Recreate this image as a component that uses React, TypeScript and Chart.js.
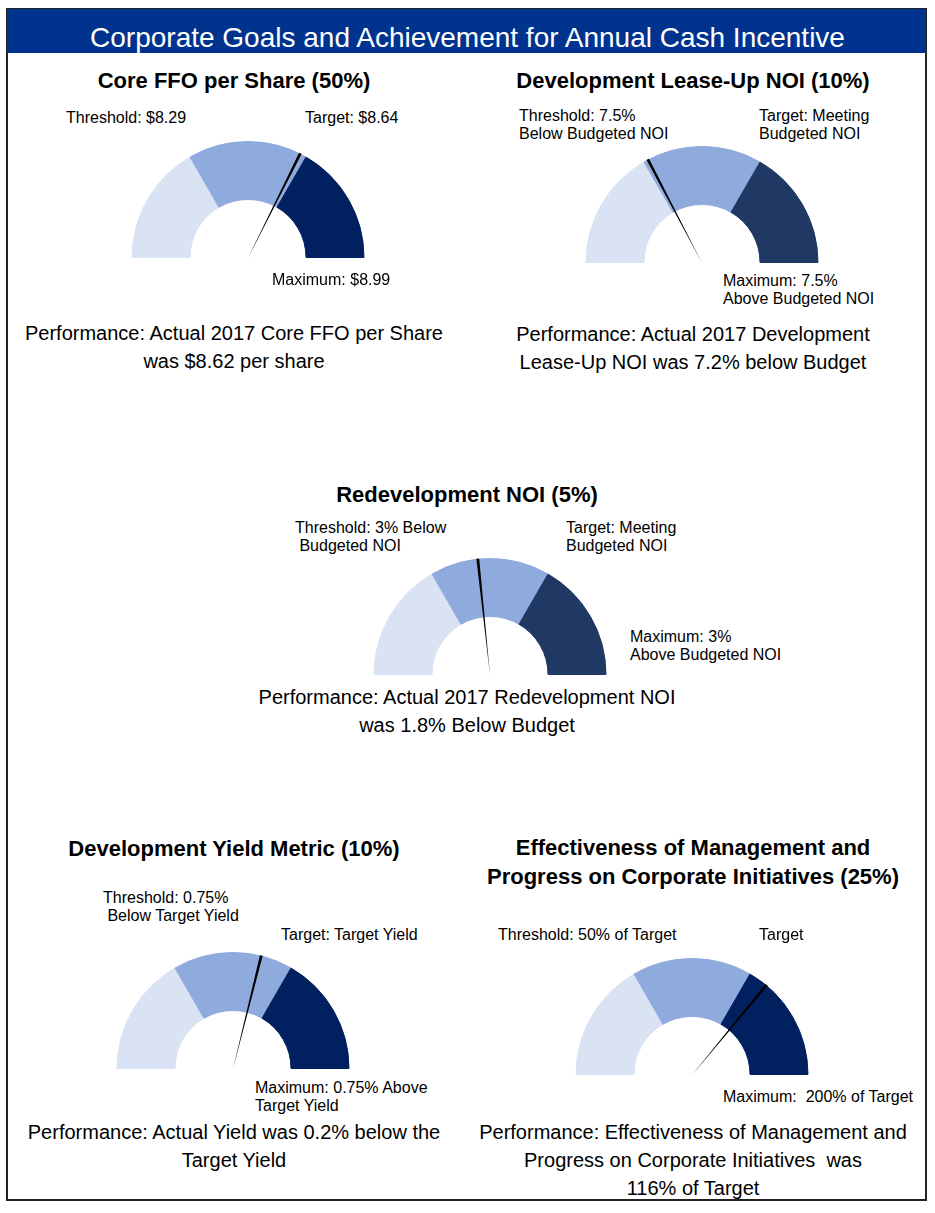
import React, { useEffect, useRef } from "react";
import { Chart, registerables } from "chart.js";

Chart.register(...registerables);

// ---------------- DATA ----------------
const pageTitle = "Corporate Goals and Achievement for Annual Cash Incentive";

const gaugeTitles: string[][] = [
  ["Core FFO per Share (50%)"],
  ["Development Lease-Up NOI (10%)"],
  ["Redevelopment NOI (5%)"],
  ["Development Yield Metric (10%)"],
  ["Effectiveness of Management and", "Progress on Corporate Initiatives (25%)"],
];

const thresholdValues = [8.29, -7.5, -3, -0.75, 50];
const targetValues = [8.64, 0, 0, 0, 100];
const maximumValues = [8.99, 7.5, 3, 0.75, 200];
const actualValues = [8.62, -7.2, -1.8, -0.2, 116];

// gauge bands (degrees of the half circle): below threshold, threshold→target, target→maximum
const bandLabels = ["Below Threshold", "Threshold to Target", "Target to Maximum"];
const bandSizes = [60, 60, 60];

const thresholdLabels: string[][] = [
  ["Threshold: $8.29"],
  ["Threshold: 7.5%", "Below Budgeted NOI"],
  ["Threshold: 3% Below", " Budgeted NOI"],
  ["Threshold: 0.75%", " Below Target Yield"],
  ["Threshold: 50% of Target"],
];
const targetLabels: string[][] = [
  ["Target: $8.64"],
  ["Target: Meeting", "Budgeted NOI"],
  ["Target: Meeting", "Budgeted NOI"],
  ["Target: Target Yield"],
  ["Target"],
];
const maximumLabels: string[][] = [
  ["Maximum: $8.99"],
  ["Maximum: 7.5%", "Above Budgeted NOI"],
  ["Maximum: 3%", "Above Budgeted NOI"],
  ["Maximum: 0.75% Above", "Target Yield"],
  ["Maximum:  200% of Target"],
];
const performanceTexts: string[][] = [
  ["Performance: Actual 2017 Core FFO per Share", "was $8.62 per share"],
  ["Performance: Actual 2017 Development", "Lease-Up NOI was 7.2% below Budget"],
  ["Performance: Actual 2017 Redevelopment NOI", "was 1.8% Below Budget"],
  ["Performance: Actual Yield was 0.2% below the", "Target Yield"],
  [
    "Performance: Effectiveness of Management and",
    "Progress on Corporate Initiatives  was",
    "116% of Target",
  ],
];

// ---------------- STYLE / LAYOUT ----------------
const FONT = '"Liberation Sans", Arial, Helvetica, sans-serif';
const LIGHT = "#DAE3F3";
const MEDIUM = "#8FAADC";
const DARK_NAVY = "#002060";
const DARK_SLATE = "#203864";
const darkColors = [DARK_NAVY, DARK_SLATE, DARK_SLATE, DARK_NAVY, DARK_NAVY];
const NEEDLE_WIDTH = 1.4; // degrees
const R = 117;

type Pt = { x: number; y: number };
type Layout = {
  center: Pt;
  titleCx: number;
  titleCy: number;
  thr: Pt;
  tgt: Pt;
  max: Pt;
  perfCx: number;
  perfCy: number;
};

const layouts: Layout[] = [
  { center: { x: 248, y: 258 }, titleCx: 234, titleCy: 80, thr: { x: 66, y: 118 }, tgt: { x: 305, y: 118 }, max: { x: 272, y: 280 }, perfCx: 234, perfCy: 333 },
  { center: { x: 702, y: 263 }, titleCx: 693, titleCy: 80, thr: { x: 519, y: 116 }, tgt: { x: 759, y: 116 }, max: { x: 723, y: 281 }, perfCx: 693, perfCy: 334 },
  { center: { x: 490, y: 675 }, titleCx: 467, titleCy: 494, thr: { x: 295, y: 528 }, tgt: { x: 566, y: 528 }, max: { x: 630, y: 637 }, perfCx: 467, perfCy: 697 },
  { center: { x: 233, y: 1069 }, titleCx: 234, titleCy: 848, thr: { x: 103, y: 898 }, tgt: { x: 281, y: 935 }, max: { x: 255, y: 1088 }, perfCx: 234, perfCy: 1132 },
  { center: { x: 692, y: 1075 }, titleCx: 693, titleCy: 847, thr: { x: 498, y: 935 }, tgt: { x: 759, y: 935 }, max: { x: 723, y: 1097 }, perfCx: 693, perfCy: 1132 },
];

function needleDegrees(i: number): number {
  const a = actualValues[i];
  const th = thresholdValues[i];
  const tg = targetValues[i];
  const mx = maximumValues[i];
  if (a <= tg) return bandSizes[0] + ((a - th) / (tg - th)) * bandSizes[1];
  return bandSizes[0] + bandSizes[1] + ((a - tg) / (mx - tg)) * bandSizes[2];
}

function Gauge({ i }: { i: number }) {
  const bandRef = useRef<HTMLCanvasElement>(null);
  const needleRef = useRef<HTMLCanvasElement>(null);
  useEffect(() => {
    const common: any = {
      responsive: false,
      animation: false,
      events: [],
      rotation: -90,
      circumference: 180,
      layout: { padding: 0 },
      plugins: { legend: { display: false }, tooltip: { enabled: false } },
    };
    const colors = [LIGHT, MEDIUM, darkColors[i]];
    const band = new Chart(bandRef.current as HTMLCanvasElement, {
      type: "doughnut",
      data: {
        labels: bandLabels,
        datasets: [{ data: bandSizes, backgroundColor: colors, borderColor: colors, borderWidth: 1 }],
      },
      options: { ...common, cutout: "50%" },
    });
    const pos = needleDegrees(i);
    const total = bandSizes.reduce((s, v) => s + v, 0);
    const needle = new Chart(needleRef.current as HTMLCanvasElement, {
      type: "pie",
      data: {
        labels: ["", "Actual", ""],
        datasets: [
          {
            data: [pos - NEEDLE_WIDTH / 2, NEEDLE_WIDTH, total - pos - NEEDLE_WIDTH / 2],
            backgroundColor: ["rgba(0,0,0,0)", "#000000", "rgba(0,0,0,0)"],
            borderWidth: 0,
          },
        ],
      },
      options: common,
    });
    return () => {
      band.destroy();
      needle.destroy();
    };
  }, [i]);
  const L = layouts[i];
  const st: React.CSSProperties = {
    position: "absolute",
    left: L.center.x - R,
    top: L.center.y - R,
    width: 2 * R,
    height: R,
  };
  return (
    <>
      <canvas ref={bandRef} width={2 * R} height={R} style={st} />
      <canvas ref={needleRef} width={2 * R} height={R} style={st} />
    </>
  );
}

function Lines({ lines, x, cy, size, lh, center, bold }: { lines: string[]; x: number; cy: number; size: number; lh: number; center?: boolean; bold?: boolean }) {
  return (
    <div
      style={{
        position: "absolute",
        left: center ? x - 300 : x,
        width: center ? 600 : undefined,
        top: cy - lh / 2,
        fontFamily: FONT,
        fontSize: size,
        lineHeight: lh + "px",
        fontWeight: bold ? 700 : 400,
        textAlign: center ? "center" : "left",
        whiteSpace: "pre",
        color: "#000",
      }}
    >
      {lines.map((l, k) => (
        <div key={k}>{l}</div>
      ))}
    </div>
  );
}

export default function App() {
  return (
    <div style={{ position: "absolute", left: 0, top: 0, width: 935, height: 1213, background: "#fff", overflow: "hidden" }}>
      <div style={{ position: "absolute", left: 6, top: 8, width: 921, height: 1193, boxSizing: "border-box", border: "2px solid #222" }} />
      <div style={{ position: "absolute", left: 7, top: 9, width: 919, height: 44, background: "#00338E" }} />
      <div
        style={{
          position: "absolute",
          left: 0,
          width: 935,
          top: 22,
          lineHeight: "32px",
          textAlign: "center",
          color: "#fff",
          fontFamily: FONT,
          fontSize: 28,
          whiteSpace: "pre",
        }}
      >
        {pageTitle}
      </div>
      {layouts.map((L, i) => (
        <React.Fragment key={i}>
          <Gauge i={i} />
          <Lines lines={gaugeTitles[i]} x={L.titleCx} cy={L.titleCy} size={22} lh={29} center bold />
          <Lines lines={thresholdLabels[i]} x={L.thr.x} cy={L.thr.y} size={16} lh={18} />
          <Lines lines={targetLabels[i]} x={L.tgt.x} cy={L.tgt.y} size={16} lh={18} />
          <Lines lines={maximumLabels[i]} x={L.max.x} cy={L.max.y} size={16} lh={18} />
          <Lines lines={performanceTexts[i]} x={L.perfCx} cy={L.perfCy} size={20} lh={28} center />
        </React.Fragment>
      ))}
    </div>
  );
}
